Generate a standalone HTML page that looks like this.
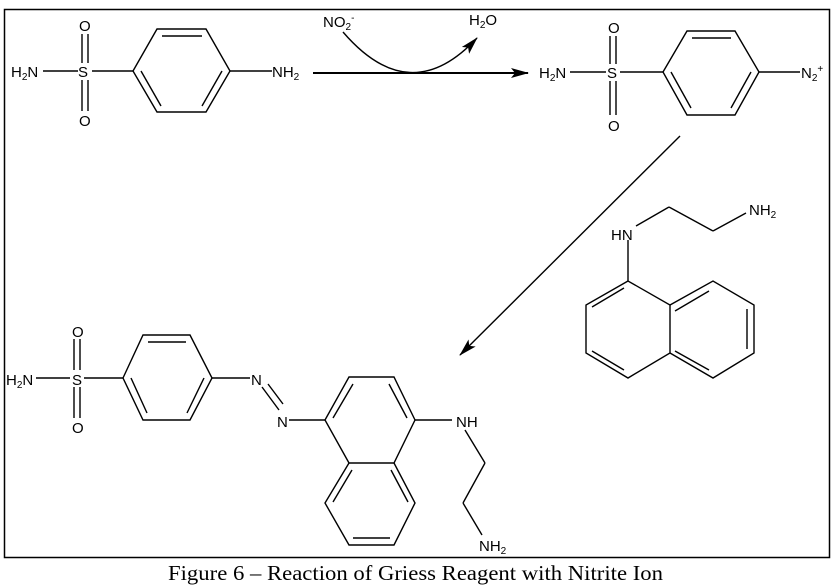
<!DOCTYPE html>
<html><head><meta charset="utf-8"><style>
html,body{margin:0;padding:0;background:#fff;width:834px;height:586px;overflow:hidden}
svg{display:block}
.l{font-family:"Liberation Sans",sans-serif;font-size:15px;fill:#000}
.s{font-size:10px}
</style></head><body>
<svg width="834" height="586" viewBox="0 0 834 586">
<defs><marker id="ah" markerWidth="18" markerHeight="10" refX="17" refY="5" orient="auto" markerUnits="userSpaceOnUse"><path d="M0,0 L18,5 L0,10 L4,5 Z" fill="#000"/></marker></defs>
<rect x="4.5" y="9.5" width="825" height="548" fill="none" stroke="#000" stroke-width="1.5"/>
<g stroke="#000" stroke-width="1.4" fill="none">
<!-- mol 1 -->
<line x1="43" y1="71" x2="78" y2="71"/><line x1="92" y1="71" x2="133" y2="71"/>
<line x1="82" y1="34" x2="82" y2="63"/><line x1="88" y1="34" x2="88" y2="63"/>
<line x1="82" y1="80" x2="82" y2="111"/><line x1="88" y1="80" x2="88" y2="111"/>
<polygon points="133,71 157,29 206,29 230,71 206,112 157,112"/>
<line x1="162" y1="36" x2="202" y2="36"/><line x1="141" y1="71" x2="161" y2="106"/><line x1="222" y1="71" x2="202" y2="106"/>
<line x1="230" y1="71" x2="272" y2="71"/>
<!-- arrows -->
<line x1="313" y1="73" x2="528" y2="73" stroke-width="2" marker-end="url(#ah)"/>
<path d="M343,32 Q410,110 477,38" marker-end="url(#ah)"/>
<line x1="680" y1="136" x2="460" y2="355" marker-end="url(#ah)"/>
<!-- mol 2 -->
<line x1="570" y1="72" x2="606" y2="72"/><line x1="620" y1="72" x2="663" y2="72"/>
<line x1="610" y1="36" x2="610" y2="64"/><line x1="616" y1="36" x2="616" y2="64"/>
<line x1="610" y1="81" x2="610" y2="115"/><line x1="616" y1="81" x2="616" y2="115"/>
<polygon points="663,72 687,31 735,31 759,72 735,115 687,115"/>
<line x1="692" y1="38" x2="731" y2="38"/><line x1="671" y1="72" x2="691" y2="108"/><line x1="751" y1="72" x2="731" y2="108"/>
<line x1="759" y1="72" x2="800" y2="72"/>
<!-- reagent -->
<line x1="636" y1="226" x2="669" y2="207"/><line x1="669" y1="207" x2="713" y2="231"/><line x1="713" y1="231" x2="746" y2="213"/>
<line x1="628" y1="240" x2="628" y2="281"/>
<polygon points="628,281 586,305 586,353 628,378 670,353 670,305"/>
<polyline points="670,305 713,281 754,305 754,353 713,378 670,353"/>
<line x1="624" y1="288" x2="592" y2="307"/><line x1="592" y1="351" x2="624" y2="370"/>
<line x1="675" y1="311" x2="709" y2="291"/><line x1="747" y1="309" x2="747" y2="349"/><line x1="709" y1="370" x2="675" y2="351"/>
<!-- product -->
<line x1="36" y1="378" x2="70" y2="378"/><line x1="84" y1="378" x2="123" y2="378"/>
<line x1="74" y1="339" x2="74" y2="370"/><line x1="80" y1="339" x2="80" y2="370"/>
<line x1="74" y1="387" x2="74" y2="418"/><line x1="80" y1="387" x2="80" y2="418"/>
<polygon points="123,378 143,335 190,335 212,378 190,420 143,420"/>
<line x1="148" y1="342" x2="186" y2="342"/><line x1="131" y1="378" x2="147" y2="413"/><line x1="204" y1="378" x2="187" y2="413"/>
<line x1="212" y1="378" x2="250" y2="378"/>
<line x1="262" y1="387" x2="279" y2="410"/><line x1="268" y1="384" x2="283" y2="404"/>
<line x1="289" y1="420" x2="325" y2="420"/>
<polygon points="325,420 349,377 394,377 415,420 394,463 349,463"/>
<polyline points="349,463 325,503 349,545 394,545 415,503 394,463"/>
<line x1="333" y1="418" x2="353" y2="384"/><line x1="407" y1="418" x2="389" y2="384"/>
<line x1="352" y1="470" x2="333" y2="502"/><line x1="391" y1="470" x2="408" y2="502"/><line x1="353" y1="538" x2="390" y2="538"/>
<line x1="415" y1="420" x2="452" y2="420"/>
<line x1="465" y1="430" x2="485" y2="463"/><line x1="485" y1="463" x2="463" y2="503"/><line x1="463" y1="503" x2="482" y2="535"/>
</g>
<g class="l">
<text x="11" y="77">H<tspan class="s" dy="3">2</tspan><tspan dy="-3">N</tspan></text>
<text x="78" y="77">S</text><text x="79" y="31">O</text><text x="79" y="126">O</text>
<text x="272" y="77">NH<tspan class="s" dy="3">2</tspan></text>
<text x="323" y="27">NO<tspan class="s" dy="3">2</tspan><tspan class="s" dy="-9">-</tspan></text>
<text x="469" y="25">H<tspan class="s" dy="3">2</tspan><tspan dy="-3">O</tspan></text>
<text x="539" y="78">H<tspan class="s" dy="3">2</tspan><tspan dy="-3">N</tspan></text>
<text x="607" y="78">S</text><text x="608" y="33">O</text><text x="608" y="131">O</text>
<text x="801" y="78">N<tspan class="s" dy="3">2</tspan><tspan class="s" dy="-9">+</tspan></text>
<text x="611" y="240">HN</text>
<text x="749" y="215">NH<tspan class="s" dy="3">2</tspan></text>
<text x="6" y="385">H<tspan class="s" dy="3">2</tspan><tspan dy="-3">N</tspan></text>
<text x="72" y="385">S</text><text x="72" y="337">O</text><text x="72" y="433">O</text>
<text x="251" y="385">N</text><text x="277" y="427">N</text>
<text x="456" y="427">NH</text>
<text x="479" y="551">NH<tspan class="s" dy="3">2</tspan></text>
</g>
<text x="168" y="580" textLength="495" lengthAdjust="spacingAndGlyphs" style="font-family:'Liberation Serif',serif;font-size:21px">Figure 6 – Reaction of Griess Reagent with Nitrite Ion</text>
</svg>
</body></html>
